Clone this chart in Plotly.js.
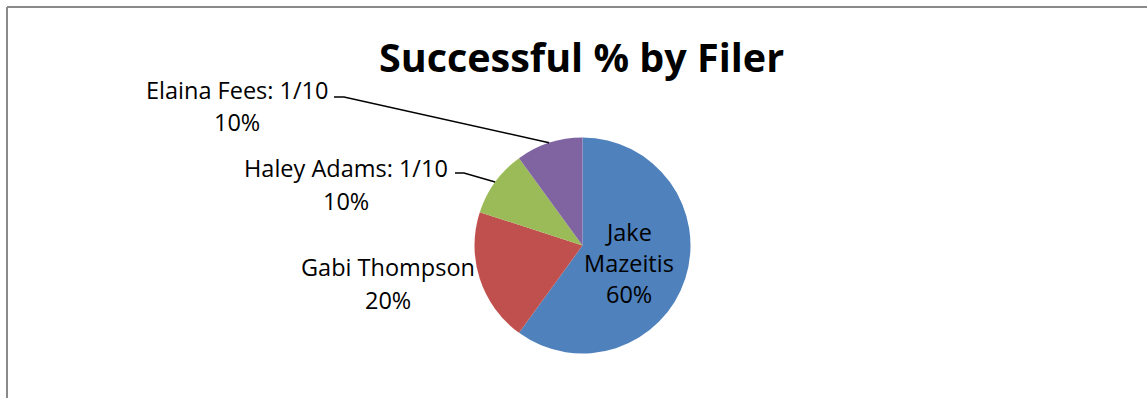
<!DOCTYPE html>
<html>
<head>
<meta charset="utf-8">
<script src="https://cdn.plot.ly/plotly-3.0.1.min.js"></script>
<style>html,body{margin:0;padding:0;background:#fff;}#chart{width:1147px;height:398px;}</style>
</head>
<body>
<div id="chart"></div>
<script>
// ---- data ----
const filers = ["Jake Mazeitis", "Gabi Thompson", "Haley Adams: 1/10", "Elaina Fees: 1/10"];
const successes = [6, 2, 1, 1];
const sliceColors = ["#4F81BD", "#C0504D", "#9BBB59", "#8064A2"];
const chartTitle = "Successful % by Filer";

// ---- layout constants (pixels) ----
const W = 1147, H = 398;
const cx = 582.5, cy = 245.5, R = 108;
const FONT = "'Open Sans', Lato, sans-serif";
const px = x => x / W;
const py = y => 1 - y / H;

const total = successes.reduce((a, b) => a + b, 0);
const pct = successes.map(v => Math.round(v / total * 100) + "%");

// label text lines per slice (name lines + percent)
const labelLines = [
  ["Jake", "Mazeitis", pct[0]],
  [filers[1], pct[1]],
  [filers[2], pct[2]],
  [filers[3], pct[3]]
];
// label block positions: center x, first line middle y, line spacing
const labelPos = [
  {x: 628.5, y: 231.5, dy: 31.3},
  {x: 388, y: 266.5, dy: 33},
  {x: 346, y: 167.5, dy: 33},
  {x: 237, y: 90.5, dy: 32}
];
// leader line start (end of label) for outside labels
const leaderStart = [null, null, {x: 455, y: 173, h: 9}, {x: 334, y: 97, h: 10}];

const annotations = [];
labelLines.forEach((lines, i) => {
  lines.forEach((t, j) => {
    annotations.push({
      text: t, xref: "paper", yref: "paper",
      x: px(labelPos[i].x), y: py(labelPos[i].y + j * labelPos[i].dy),
      xanchor: "center", yanchor: "middle", showarrow: false,
      font: {family: FONT, size: 23.5, color: "#000"}
    });
  });
});

// leader lines to slice mid-points (angles from data)
const shapes = [];
let cum = 0;
successes.forEach((v, i) => {
  const mid = (cum + v / 2) / total * 2 * Math.PI;
  cum += v;
  const ls = leaderStart[i];
  if (!ls) return;
  const ex = cx + R * Math.sin(mid), ey = cy - R * Math.cos(mid);
  shapes.push({
    type: "path", xref: "paper", yref: "paper",
    path: `M ${px(ls.x)} ${py(ls.y)} L ${px(ls.x + ls.h)} ${py(ls.y)} L ${px(ex)} ${py(ey)}`,
    line: {color: "#000", width: 1.5}
  });
});
// chart border (top and left visible)
shapes.push({type: "line", xref: "paper", yref: "paper", x0: px(7), y0: py(7), x1: 1.02, y1: py(7), line: {color: "#8a8a8a", width: 2}});
shapes.push({type: "line", xref: "paper", yref: "paper", x0: px(7), y0: py(7), x1: px(7), y1: -0.02, line: {color: "#8a8a8a", width: 2}});

const trace = {
  type: "pie",
  labels: filers,
  values: successes,
  sort: false,
  direction: "clockwise",
  rotation: 0,
  textinfo: "none",
  hoverinfo: "label+percent",
  marker: {colors: sliceColors, line: {width: 0}},
  domain: {x: [px(cx - R), px(cx + R)], y: [py(cy + R), py(cy - R)]},
  showlegend: false
};

const layout = {
  width: W, height: H,
  margin: {l: 0, r: 0, t: 0, b: 0},
  paper_bgcolor: "#fff",
  title: {
    text: "<b>" + chartTitle + "</b>",
    font: {family: FONT, size: 39.5, color: "#000"},
    x: px(581.5), xanchor: "center", xref: "paper",
    y: py(58.5), yanchor: "middle", yref: "container"
  },
  annotations: annotations,
  shapes: shapes,
  showlegend: false
};

Plotly.newPlot("chart", [trace], layout, {displayModeBar: false, staticPlot: true});
</script>
</body>
</html>
